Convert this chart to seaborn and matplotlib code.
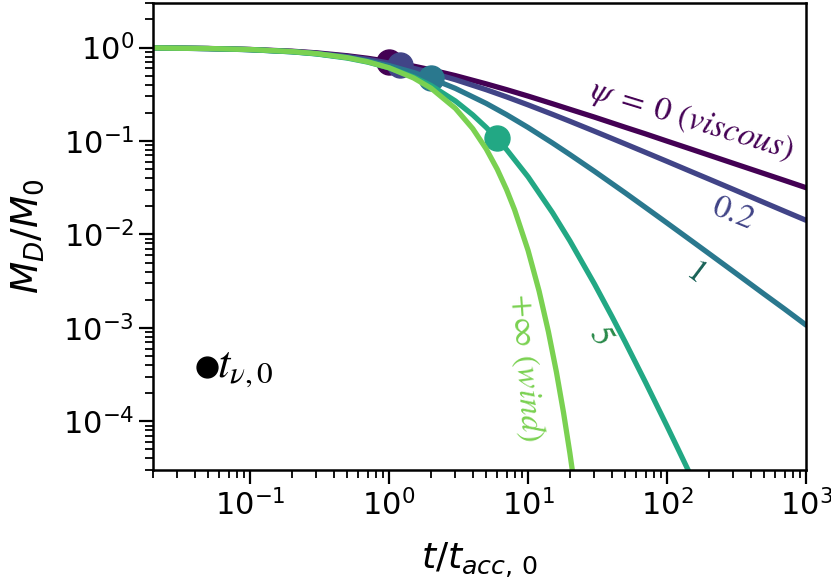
import numpy as np
import pandas as pd
import matplotlib
matplotlib.use('Agg')
import matplotlib.pyplot as plt
import seaborn as sns

# values (t in units of t_acc,0, M_D / M_0)
t_grid = [0.02, 0.05, 0.1, 0.2, 0.3, 0.5, 0.7, 1, 1.5, 2, 3, 5, 7, 10, 15, 20,
          30, 50, 70, 100, 150, 200, 300, 500, 700, 1000]
m_psi0 = [0.990, 0.976, 0.953, 0.913, 0.877, 0.816, 0.767, 0.707, 0.632, 0.577,
          0.500, 0.408, 0.354, 0.302, 0.250, 0.218, 0.180, 0.140, 0.119, 0.0995,
          0.0814, 0.0705, 0.0576, 0.0447, 0.0378, 0.0316]
m_psi02 = [0.9896, 0.9745, 0.9506, 0.9070, 0.8683, 0.8022, 0.7476, 0.6814, 0.5985,
           0.5375, 0.4525, 0.3536, 0.2963, 0.2432, 0.1925, 0.1624, 0.1271, 0.0929,
           0.0754, 0.0604, 0.0468, 0.0391, 0.0303, 0.0219, 0.0177, 0.01415]
m_psi1 = [0.9891, 0.9732, 0.9477, 0.9005, 0.8575, 0.7823, 0.7188, 0.6402, 0.5403,
          0.4665, 0.3650, 0.2521, 0.1912, 0.1394, 0.0950, 0.0715, 0.0474, 0.0278,
          0.0194, 0.01323, 0.00853, 0.00624, 0.00401, 0.00229, 0.00159, 0.00107]

t_psi5 = [0.02, 0.05, 0.1, 0.2, 0.3, 0.5, 0.7, 1, 1.5, 2, 3, 4, 5, 6, 7, 10, 15,
          20, 30, 40, 50, 70, 100, 120, 150]
m_psi5 = [0.9892, 0.9734, 0.9477, 0.8989, 0.8534, 0.7709, 0.6986, 0.6059, 0.4842,
          0.3926, 0.2677, 0.1901, 0.1395, 0.1051, 0.0810, 0.0413, 0.01706, 0.00852,
          0.002957, 0.001333, 7.04e-4, 2.61e-4, 8.85e-5, 5.04e-5, 2.52e-5]

t_wind = [0.02, 0.05, 0.1, 0.2, 0.3, 0.5, 0.7, 1, 1.5, 2, 3, 4, 5, 6, 7, 8, 10,
          12, 14, 16, 18, 20, 22]
m_wind = [0.99005, 0.97531, 0.95123, 0.90484, 0.86071, 0.77880, 0.70469, 0.60653,
          0.47237, 0.36788, 0.22313, 0.13534, 0.08208, 0.04979, 0.03020, 0.01832,
          6.738e-3, 2.479e-3, 9.119e-4, 3.355e-4, 1.234e-4, 4.540e-5, 1.670e-5]

# t_nu,0 markers
t_nu = [1.0, 1.2, 2.0, 6.0]
m_nu = [0.707, 0.645, 0.467, 0.107]

psi_names = ['0', '0.2', '1', '5', 'inf']
line_colors = ['#440154', '#414487', '#2a788e', '#22a884', '#7ad151']

sns.set_style('ticks')
plt.rcParams['font.family'] = ['DejaVu Sans']
plt.rcParams['axes.linewidth'] = 1.8
plt.rcParams['axes.edgecolor'] = 'black'
plt.rcParams['xtick.color'] = 'black'
plt.rcParams['ytick.color'] = 'black'
plt.rcParams['axes.labelcolor'] = 'black'
plt.rcParams['text.color'] = 'black'

fig, ax = plt.subplots(figsize=(8.31, 5.84), dpi=100)
fig.subplots_adjust(left=0.184, right=0.970, top=0.995, bottom=0.195)

curves = [(t_grid, m_psi0), (t_grid, m_psi02), (t_grid, m_psi1), (t_psi5, m_psi5)]
for i, (tt, mm) in enumerate(curves):
    df = pd.DataFrame({'t': tt, 'M': mm})
    sns.lineplot(data=df, x='t', y='M', color=line_colors[i], lw=3.8, ax=ax)
    ax.plot([t_nu[i]], [m_nu[i]], 'o', color=line_colors[i], ms=18)

df = pd.DataFrame({'t': t_wind, 'M': m_wind})
sns.lineplot(data=df, x='t', y='M', color=line_colors[4], lw=3.8, ax=ax)

ax.set_xscale('log')
ax.set_yscale('log')
ax.set_xlim(0.02, 1000)
ax.set_ylim(3e-5, 3)

ax.set_xlabel(r'$t/t_{acc,\,0}$', fontsize=26, labelpad=14)
ax.set_ylabel(r'$M_D/M_0$', fontsize=27, labelpad=12)
ax.tick_params(which='major', labelsize=22, length=10, width=1.6)
ax.tick_params(which='minor', length=5.5, width=1.3)

# curve labels
ax.text(150, 0.165, r'$\psi\;=\;0\ (viscous)$', color='#440154', fontsize=24,
        rotation=-17, ha='center', va='center', math_fontfamily='stix')
ax.text(300, 0.0172, r'$0.2$', color='#414487', fontsize=24,
        rotation=-22, ha='center', va='center', math_fontfamily='stix')
ax.text(162, 4.1e-3, r'$1$', color='#1b6358', fontsize=24,
        rotation=-37, ha='center', va='center', math_fontfamily='stix')
ax.text(33.5, 8.4e-4, r'$5$', color='#2a8a4a', fontsize=24,
        rotation=-62, ha='center', va='center', math_fontfamily='stix')
ax.text(9.6, 3.8e-4, r'$+\infty\ (wind)$', color='#7ad151', fontsize=24,
        rotation=-86, ha='center', va='center', math_fontfamily='stix')

# t_nu,0 key
ax.plot([0.049], [3.8e-4], 'o', color='k', ms=15)
ax.text(0.058, 3.8e-4, r'$t_{\nu,0}$', fontsize=32, ha='left', va='center',
        math_fontfamily='stix')

plt.savefig('out.png', dpi=100)
